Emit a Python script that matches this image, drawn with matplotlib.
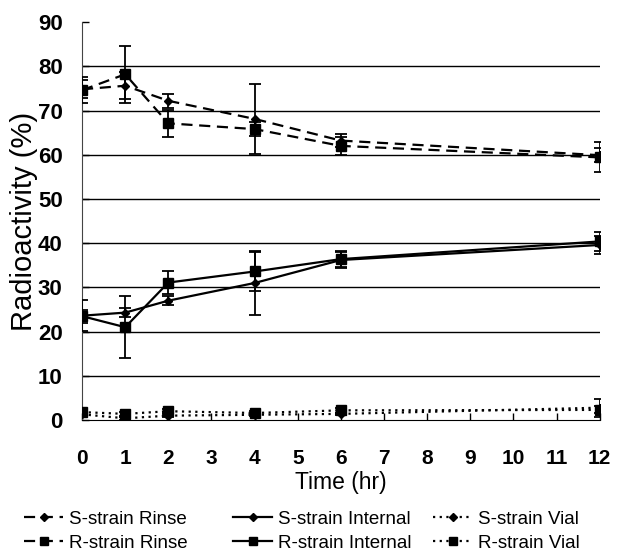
import matplotlib
matplotlib.use("Agg")
import matplotlib.pyplot as plt

plt.rcParams['font.family'] = ['Liberation Sans', 'DejaVu Sans']

# sampling times (hr)
time_hr = [0, 1, 2, 4, 6, 12]

# radioactivity (%)
s_rinse = [74.8, 75.6, 72.2, 68.1, 63.2, 59.9]
r_rinse = [74.6, 78.2, 67.1, 65.8, 62.0, 59.4]
s_internal = [23.6, 24.3, 27.0, 31.0, 36.2, 39.6]
r_internal = [23.5, 21.0, 31.1, 33.6, 36.4, 40.4]
s_vial = [1.3, 0.4, 1.0, 1.2, 1.4, 2.8]
r_vial = [1.8, 1.4, 2.0, 1.6, 2.2, 2.3]

# error bar half-widths
s_rinse_err = [2.0, 3.0, 1.6, 8.0, 1.5, 1.6]
r_rinse_err = [3.0, 6.4, 3.0, 1.5, 2.0, 3.4]
s_internal_err = [3.5, 1.0, 1.0, 7.2, 1.8, 2.0]
r_internal_err = [1.5, 7.0, 2.6, 4.4, 1.8, 2.2]
s_vial_err = [0.3, 0.3, 0.3, 0.3, 0.3, 2.0]
r_vial_err = [0.8, 0.4, 0.5, 0.4, 0.6, 0.8]

fig = plt.figure(figsize=(6.17, 5.52), dpi=100)
ax = fig.add_axes([0.133, 0.239, 0.839, 0.721])

dash = (0, (5, 3))
dot = (0, (1, 2))
series = [
    (s_rinse, s_rinse_err, 'D', 4.5, dash, 'S-strain Rinse'),
    (r_rinse, r_rinse_err, 's', 7, dash, 'R-strain Rinse'),
    (s_internal, s_internal_err, 'D', 4.5, '-', 'S-strain Internal'),
    (r_internal, r_internal_err, 's', 7, '-', 'R-strain Internal'),
    (s_vial, s_vial_err, 'D', 4.5, dot, 'S-strain Vial'),
    (r_vial, r_vial_err, 's', 7, dot, 'R-strain Vial'),
]

handles = []
for vals, err, mk, ms, ls, name in series:
    ax.errorbar(time_hr, vals, yerr=err, fmt='none', ecolor='black',
                elinewidth=1.3, capsize=4, capthick=1.3, zorder=3)
    h, = ax.plot(time_hr, vals, color='black', linestyle=ls, linewidth=1.6,
                 marker=mk, markersize=ms, markerfacecolor='black',
                 markeredgecolor='black', label=name, zorder=4)
    handles.append(h)

ax.set_xlim(0, 12)
ax.set_ylim(0, 90)
ax.set_xticks(range(0, 13))
ax.set_yticks(range(0, 91, 10))
ax.yaxis.grid(True, color='black', linewidth=1.0)
ax.get_ygridlines()[-1].set_visible(False)
ax.get_ygridlines()[0].set_visible(False)
ax.set_axisbelow(True)

for side in ['top', 'right']:
    ax.spines[side].set_visible(False)
ax.spines['left'].set_color('#444444')
ax.spines['bottom'].set_color('black')
ax.tick_params(direction='in', length=5, width=1)
ax.tick_params(axis='x', pad=21, labelsize=15)
ax.tick_params(axis='y', pad=14, labelsize=16)
for lab in ax.get_xticklabels() + ax.get_yticklabels():
    lab.set_fontweight('bold')

ax.set_xlabel('Time (hr)', fontsize=16.5)
ax.xaxis.set_label_coords(0.5, -0.128)
ax.set_ylabel('Radioactivity (%)', fontsize=21)
ax.yaxis.set_label_coords(-0.086, 0.5)

# three legend columns placed like the original
col_x = [24, 233, 433]
for i, x in enumerate(col_x):
    fig.legend(handles=handles[2 * i:2 * i + 2], loc='upper left',
               bbox_to_anchor=(x / 617, 0.075), frameon=False, fontsize=13.5,
               handlelength=2.1, handletextpad=0.3, labelspacing=0.38,
               borderpad=0, borderaxespad=0, markerscale=0.8)

fig.savefig('out.png', dpi=100)
